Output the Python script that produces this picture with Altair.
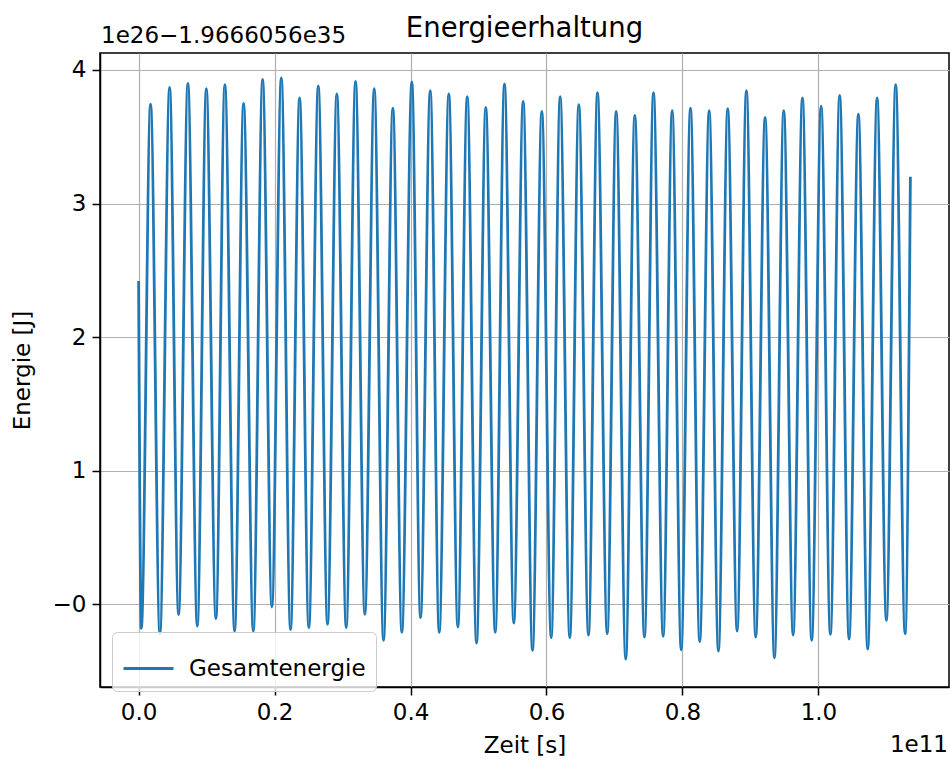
import altair as alt
import pandas as pd

# Time in units of 1e11 s, energy as offset in units of 1e26 J relative to -1.9666056e35 J
start_time = [0.0]
start_energy = [2.42]

trough_times = [0.0040, 0.0313, 0.0588, 0.0863, 0.1137, 0.1412, 0.1687, 0.1960, 0.2235, 0.2504,
                0.2779, 0.3054, 0.3328, 0.3603, 0.3872, 0.4147, 0.4422, 0.4696, 0.4971, 0.5246,
                0.5519, 0.5794, 0.6069, 0.6343, 0.6618, 0.6893, 0.7166, 0.7441, 0.7716, 0.7981,
                0.8254, 0.8529, 0.8804, 0.9078, 0.9353, 0.9628, 0.9901, 1.0176, 1.0451, 1.0725,
                1.1000, 1.1275]
trough_energy = [-0.18, -0.22, -0.077, -0.163, -0.107, -0.20, -0.20, -0.02, -0.19, -0.175,
                 -0.15, -0.175, -0.075, -0.27, -0.21, -0.10, -0.21, -0.17, -0.29, -0.21,
                 -0.14, -0.345, -0.25, -0.25, -0.23, -0.22, -0.41, -0.245, -0.24, -0.34,
                 -0.28, -0.35, -0.20, -0.245, -0.40, -0.23, -0.27, -0.225, -0.26, -0.335,
                 -0.12, -0.22]

peak_times = [0.0176, 0.0456, 0.0725, 0.0996, 0.1269, 0.1544, 0.1824, 0.2099, 0.2368, 0.2643,
              0.2916, 0.3191, 0.3466, 0.3740, 0.4019, 0.4290, 0.4563, 0.4834, 0.5107, 0.5382,
              0.5657, 0.5931, 0.6201, 0.6475, 0.6750, 0.7025, 0.7299, 0.7574, 0.7849, 0.8118,
              0.8393, 0.8666, 0.8941, 0.9216, 0.9490, 0.9765, 1.0040, 1.0313, 1.0588, 1.0863,
              1.1137]
peak_energy = [3.745, 3.87, 3.90, 3.86, 3.89, 3.75, 3.93, 3.94, 3.79, 3.88,
               3.82, 3.915, 3.86, 3.715, 3.91, 3.845, 3.82, 3.80, 3.72, 3.895,
               3.765, 3.69, 3.80, 3.74, 3.83, 3.69, 3.66, 3.83, 3.695, 3.715,
               3.695, 3.71, 3.845, 3.645, 3.695, 3.79, 3.73, 3.81, 3.67, 3.79,
               3.89]

end_time = [1.1353]
end_energy = [3.2]

series_name = "Gesamtenergie"
chart_title = ["Energieerhaltung"]
y_ticks = [0, 1, 2, 3, 4]
x_ticks = [0.0, 0.2, 0.4, 0.6, 0.8, 1.0]
offset_label = ["1e26\u22121.9666056e35"]
x_scale_label = ["1e11"]

df = pd.DataFrame({
    "t": start_time + trough_times + peak_times + end_time,
    "E": start_energy + trough_energy + peak_energy + end_energy,
}).sort_values("t").reset_index(drop=True)
df["series"] = series_name

FONT = "DejaVu Sans"
BLUE = "#1f77b4"

line = alt.Chart(df).mark_line(
    interpolate="monotone", strokeWidth=2.8, clip=True
).encode(
    x=alt.X("t:Q", scale=alt.Scale(domain=[-0.0568, 1.1921], nice=False, zero=False),
            axis=alt.Axis(values=x_ticks, format=".1f", title="Zeit [s]")),
    y=alt.Y("E:Q", scale=alt.Scale(domain=[-0.619, 4.127], nice=False, zero=False),
            axis=alt.Axis(values=y_ticks, title="Energie [J]",
                          labelExpr="datum.value == 0 ? '\u22120' : format(datum.value, 'd')")),
    color=alt.Color("series:N", scale=alt.Scale(range=[BLUE]),
                    legend=alt.Legend(title=None, orient="none", legendX=12, legendY=579,
                                      symbolType="stroke", symbolSize=2500, symbolStrokeWidth=2.8,
                                      labelFontSize=23, labelFont=FONT, labelColor="black",
                                      labelOffset=14, labelLimit=0, padding=10,
                                      fillColor="rgba(255,255,255,0.8)", strokeColor="#cccccc",
                                      cornerRadius=5)),
)

title_text = alt.Chart(pd.DataFrame({"label": chart_title})).mark_text(
    align="center", baseline="alphabetic", font=FONT, fontSize=27.5, color="black"
).encode(x=alt.value(424.5), y=alt.value(-16), text="label:N")

offset_text = alt.Chart(pd.DataFrame({"label": offset_label})).mark_text(
    align="left", baseline="alphabetic", font=FONT, fontSize=23, color="black"
).encode(x=alt.value(1), y=alt.value(-10), text="label:N")

xscale_text = alt.Chart(pd.DataFrame({"label": x_scale_label})).mark_text(
    align="right", baseline="alphabetic", font=FONT, fontSize=23, color="black"
).encode(x=alt.value(848), y=alt.value(699), text="label:N")

chart = alt.layer(line, title_text, offset_text, xscale_text).properties(
    width=849, height=634,
    padding={"left": 100, "top": 53, "right": 1, "bottom": 73},
    autosize=alt.AutoSizeParams(type="none"),
    background="white",
).configure_view(
    stroke="black", strokeWidth=1.5
).configure_axis(
    labelFont=FONT, labelFontSize=23, labelColor="black",
    titleFont=FONT, titleFontSize=23, titleColor="black", titleFontWeight="normal",
    tickColor="black", tickSize=8, tickWidth=1.5,
    domainColor="black", domainWidth=1.5,
    gridColor="#b0b0b0", gridWidth=1.2, grid=True,
    labelPadding=6,
).configure_axisX(
    titlePadding=10
).configure_axisY(
    titlePadding=18
)

chart.save("out.html", embed_options={"renderer": "svg", "actions": False})
